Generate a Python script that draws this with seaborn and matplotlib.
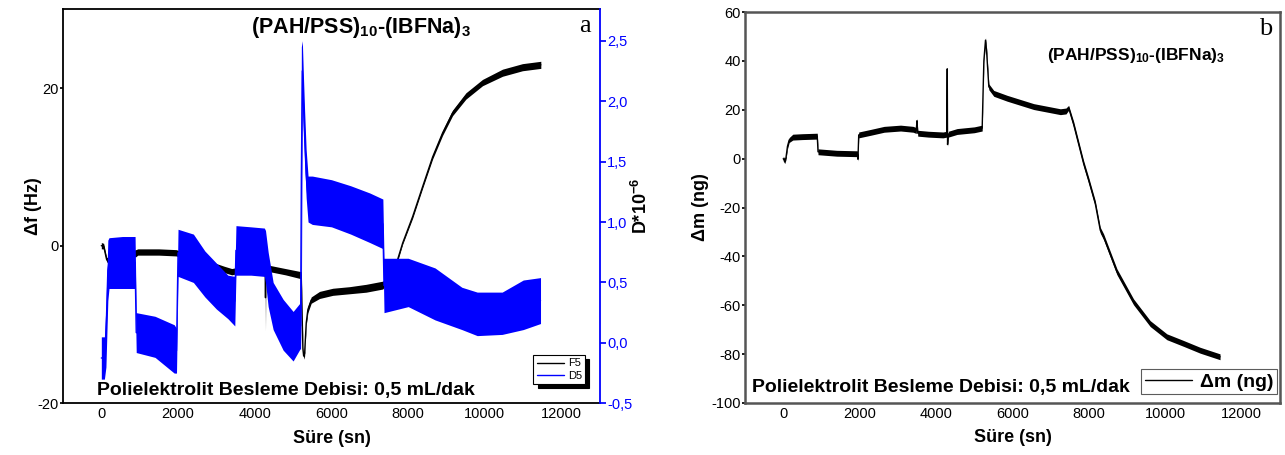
import numpy as np
import pandas as pd
import matplotlib
matplotlib.use("Agg")
import matplotlib.pyplot as plt
import seaborn as sns
from matplotlib.lines import Line2D

# ---------------- data ----------------
# Panel a: F5 (frequency shift, Hz) envelope
f5_t  = [0, 60, 140, 300, 900, 950, 1500, 1950, 2600, 3200, 3400, 3900, 4270, 4280, 4290,
         4800, 5212, 5255, 5275, 5300, 5342, 5385, 5472, 5689, 6035, 6470, 6904, 7336, 7450,
         7684, 7857, 8117, 8377, 8637, 8897, 9157, 9505, 9938, 10459, 10980, 11458]
f5_lo = [-0.4, -0.4, -2.1, -1.9, -1.4, -1.2, -1.2, -1.3, -2.4, -3.4, -3.7, -3.2, -3.2, -10.8, -3.2,
         -3.7, -4.2, -13.4, -14.4, -14.0, -10.1, -8.5, -7.3, -6.7, -6.3, -6.1, -5.9, -5.5, -4.8,
         -2.6, 0.2, 3.5, 7.3, 11.0, 14.0, 16.5, 18.6, 20.3, 21.5, 22.2, 22.5]
f5_hi = [0.4, 0.3, -1.5, -1.1, -0.5, -0.4, -0.4, -0.5, -1.6, -2.6, -2.9, -2.4, -2.4, -2.4, -2.4,
         -2.9, -3.3, -12.8, -13.6, -13.4, -9.5, -7.7, -6.5, -5.8, -5.4, -5.2, -4.9, -4.5, -4.0,
         -2.2, 0.5, 3.9, 7.7, 11.5, 14.6, 17.2, 19.4, 21.1, 22.4, 23.1, 23.4]

# Panel a: D5 (dissipation, x10^-6) envelope
d5_t  = [0, 80, 120, 170, 200, 550, 880, 910, 1400, 1900, 1960, 2000, 2400, 2700, 3000, 3300,
         3480, 3510, 3900, 4250, 4280, 4350, 4480, 4740, 5000, 5180, 5195, 5215, 5240, 5270,
         5300, 5340, 5390, 5500, 6000, 6500, 7000, 7340, 7370, 8000, 8700, 9400, 9800, 10450,
         11000, 11450]
d5_lo = [-0.30, -0.30, -0.20, 0.35, 0.45, 0.45, 0.45, -0.08, -0.12, -0.25, -0.25, 0.55, 0.50,
         0.38, 0.28, 0.20, 0.14, 0.56, 0.56, 0.55, 0.50, 0.30, 0.11, -0.06, -0.15, -0.05, -0.05,
         0.30, 2.00, 1.75, 1.50, 1.20, 1.00, 0.98, 0.96, 0.90, 0.83, 0.78, 0.25, 0.30, 0.19,
         0.11, 0.06, 0.07, 0.11, 0.16]
d5_hi = [0.05, 0.05, 0.30, 0.85, 0.87, 0.88, 0.88, 0.25, 0.22, 0.15, 0.12, 0.94, 0.90, 0.76,
         0.66, 0.56, 0.55, 0.97, 0.96, 0.95, 0.93, 0.75, 0.50, 0.36, 0.26, 0.33, 0.33, 2.45,
         2.50, 2.20, 1.92, 1.60, 1.38, 1.38, 1.35, 1.30, 1.24, 1.19, 0.70, 0.70, 0.62, 0.46,
         0.42, 0.42, 0.52, 0.54]

# Panel b: mass change (ng) envelope
dm_t  = [0, 40, 70, 110, 155, 250, 500, 890, 910, 1400, 1940, 1955, 1975, 2300, 2640, 3070,
         3400, 3480, 3500, 3520, 3800, 4180, 4280, 4292, 4300, 4320, 4550, 5000, 5206, 5250,
         5293, 5320, 5380, 5510, 5860, 6555, 7252, 7400, 7469, 7600, 7861, 7992, 8166, 8297,
         8384, 8733, 9167, 9603, 10039, 10473, 10909, 11431]
dm_lo = [-1.0, -2.0, -0.5, 4.0, 6.6, 7.6, 7.8, 8.0, 1.6, 1.0, 0.8, -1.0, 8.5, 9.6, 10.8, 11.3,
         10.8, 10.3, 14.5, 9.2, 8.8, 8.5, 8.8, 36.0, 5.0, 8.8, 9.9, 10.6, 11.3, 39.0,
         47.5, 43.0, 28.2, 25.5, 23.5, 20.1, 18.0, 18.3, 19.8, 12.8, -3.2, -10.0, -19.6, -30.5,
         -33.2, -47.5, -59.8, -68.7, -74.1, -76.8, -79.6, -82.3]
dm_hi = [1.0, 0.0, 1.0, 6.0, 8.6, 10.0, 10.2, 10.4, 4.0, 3.4, 3.2, 0.5, 10.9, 12.0, 13.2, 13.7,
         13.2, 12.7, 16.5, 11.6, 11.2, 10.9, 11.2, 37.5, 6.5, 11.2, 12.3, 13.0, 13.7, 41.0,
         49.5, 45.5, 30.6, 27.9, 25.9, 22.5, 20.4, 20.7, 21.8, 15.2, -0.8, -7.6, -17.2, -28.1,
         -30.8, -45.1, -57.4, -66.3, -71.7, -74.4, -77.2, -79.9]

x_ticks = [0, 2000, 4000, 6000, 8000, 10000, 12000]
f_ticks = [-20, 0, 20]
d_ticks = [-0.5, 0.0, 0.5, 1.0, 1.5, 2.0, 2.5]
d_tick_labels = ["-0,5", "0,0", "0,5", "1,0", "1,5", "2,0", "2,5"]
m_ticks = [-100, -80, -60, -40, -20, 0, 20, 40, 60]

title_txt = r"$\mathbf{(PAH/PSS)_{10}}$-$\mathbf{(IBFNa)_{3}}$"
note_txt = "Polielektrolit Besleme Debisi: 0,5 mL/dak"
xlabel_txt = "Süre (sn)"


def band_frame(t, lo, hi):
    return pd.DataFrame({"t": list(t) + list(t), "v": list(lo) + list(hi)})


# ---------------- style ----------------
sns.set_theme(style="white")
plt.rcParams["font.family"] = ["Liberation Sans", "DejaVu Sans"]
plt.rcParams["mathtext.fontset"] = "custom"
plt.rcParams["mathtext.rm"] = "Liberation Sans"
plt.rcParams["mathtext.bf"] = "Liberation Sans:bold"
plt.rcParams["axes.unicode_minus"] = False
for k in ["text.color", "axes.labelcolor", "xtick.color", "ytick.color"]:
    plt.rcParams[k] = "black"

fig = plt.figure(figsize=(12.85, 4.55), dpi=100)
ax1 = fig.add_axes([0.0490, 0.1136, 0.4179, 0.8660])
ax1b = ax1.twinx()
ax2 = fig.add_axes([0.5798, 0.1143, 0.4163, 0.8593])

band_kws = dict(alpha=1.0, linewidth=0)

# ---- panel a ----
sns.lineplot(data=band_frame(f5_t, f5_lo, f5_hi), x="t", y="v", ax=ax1,
             errorbar=("pi", 100), color="black", linewidth=1.0, err_kws=band_kws)
sns.lineplot(data=band_frame(d5_t, d5_lo, d5_hi), x="t", y="v", ax=ax1b,
             errorbar=("pi", 100), color="#0000ff", linewidth=1.0, err_kws=band_kws)

ax1.set_xlim(-1000, 13000)
ax1.set_ylim(-20, 30)
ax1b.set_ylim(-0.5, 2.76)
ax1.set_xticks(x_ticks)
ax1.set_xticklabels([str(v) for v in x_ticks])
ax1.set_yticks(f_ticks)
ax1.set_yticklabels([str(v) for v in f_ticks])
ax1b.set_yticks(d_ticks)
ax1b.set_yticklabels(d_tick_labels)

ax1.tick_params(axis="x", length=0, pad=3, labelsize=10.5, colors="black")
ax1.tick_params(axis="y", length=2, pad=1, labelsize=10.5, colors="black", direction="out", left=True)
ax1b.tick_params(axis="y", length=4, pad=1, labelsize=10.5, colors="#0000ff", direction="out", right=True)

for s in ["top", "left", "bottom"]:
    ax1.spines[s].set_color("black")
    ax1.spines[s].set_linewidth(1.3)
ax1.spines["right"].set_visible(False)
for s in ["top", "left", "bottom"]:
    ax1b.spines[s].set_visible(False)
ax1b.spines["right"].set_color("#0000ff")
ax1b.spines["right"].set_linewidth(1.3)

ax1.set_xlabel(xlabel_txt, fontsize=13, fontweight="bold", labelpad=6)
ax1.set_ylabel("Δf (Hz)", fontsize=13, fontweight="bold", labelpad=-3)
ax1b.set_ylabel(r"D*10$^{\mathbf{-6}}$", fontsize=13, fontweight="bold", labelpad=-1)

ax1.text(0.555, 0.955, title_txt, transform=ax1.transAxes, ha="center", va="center",
         fontsize=15.5, fontweight="bold")
ax1.text(0.982, 0.985, "a", transform=ax1.transAxes, ha="right", va="top",
         fontsize=19, family="Liberation Serif")
ax1.text(0.063, 0.012, note_txt, transform=ax1.transAxes, ha="left", va="bottom",
         fontsize=14, fontweight="bold")

handles_a = [Line2D([], [], color="black", linewidth=1.0, label="F5"),
             Line2D([], [], color="#0000ff", linewidth=1.0, label="D5")]
leg_a = ax1b.legend(handles=handles_a, loc="lower right", bbox_to_anchor=(0.983, 0.035),
                    fontsize=8, frameon=True, fancybox=False, handlelength=2.5,
                    borderpad=0.3, labelspacing=0.2, handletextpad=0.3,
                    shadow={"color": "black", "alpha": 1.0, "ox": 3, "oy": -3})
leg_a.get_frame().set_edgecolor("black")
leg_a.get_frame().set_linewidth(0.8)

# ---- panel b ----
sns.lineplot(data=band_frame(dm_t, dm_lo, dm_hi), x="t", y="v", ax=ax2,
             errorbar=("pi", 100), color="black", linewidth=1.0, err_kws=band_kws)
ax2.set_xlim(-1000, 13000)
ax2.set_ylim(-100, 60)
ax2.set_xticks(x_ticks)
ax2.set_xticklabels([str(v) for v in x_ticks])
ax2.set_yticks(m_ticks)
ax2.set_yticklabels([str(v) for v in m_ticks])
ax2.tick_params(axis="x", length=0, pad=3, labelsize=10.5, colors="black")
ax2.tick_params(axis="y", length=2, pad=1, labelsize=10.5, colors="black", left=True)
for s in ax2.spines.values():
    s.set_color("#555555")
    s.set_linewidth(1.8)
ax2.set_xlabel(xlabel_txt, fontsize=13, fontweight="bold", labelpad=6)
ax2.set_ylabel("Δm (ng)", fontsize=13, fontweight="bold", labelpad=2)

ax2.text(0.897, 0.89, title_txt, transform=ax2.transAxes, ha="right", va="center",
         fontsize=12.5, fontweight="bold")
ax2.text(0.985, 0.985, "b", transform=ax2.transAxes, ha="right", va="top",
         fontsize=19, family="Liberation Serif")
ax2.text(0.013, 0.018, note_txt, transform=ax2.transAxes, ha="left", va="bottom",
         fontsize=14, fontweight="bold")

handles_b = [Line2D([], [], color="black", linewidth=1.0, label="Δm (ng)")]
leg_b = ax2.legend(handles=handles_b, loc="lower right", bbox_to_anchor=(1.002, 0.012),
                   prop={"size": 14, "weight": "bold"}, frameon=True, fancybox=False,
                   handlelength=2.4, borderpad=0.2, handletextpad=0.4, borderaxespad=0.2)
leg_b.get_frame().set_edgecolor("#333333")
leg_b.get_frame().set_linewidth(0.8)

fig.savefig("out.png", dpi=100)
